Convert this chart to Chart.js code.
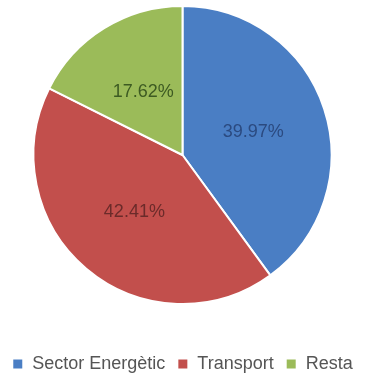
<!DOCTYPE html>
<html>
<head>
<meta charset="utf-8">
<script src="https://cdn.jsdelivr.net/npm/chart.js@4/dist/chart.umd.min.js"></script>
<style>
  html, body { margin: 0; padding: 0; background: #fff; overflow: hidden; }
  #wrap { width: 374px; height: 416px; position: absolute; left: 0; top: -33px; }
</style>
</head>
<body>
<div id="wrap"><canvas id="myChart"></canvas></div>
<script>
const labels = ["Sector Energètic", "Transport", "Resta"];
const shares = [39.97, 42.41, 17.62];
const sliceColors = ["#4a7ec4", "#c24f4c", "#9bbb59"];
const textColors = ["#2b4a80", "#6b2b2a", "#3d5a22"];

// percentage text inside each slice, at the arc's middle point
const sliceLabels = {
    id: "sliceLabels",
    afterDatasetsDraw(chart) {
        const ctx = chart.ctx;
        const meta = chart.getDatasetMeta(0);
        ctx.save();
        ctx.font = "18px 'Liberation Sans', Arial, sans-serif";
        ctx.textAlign = "center";
        ctx.textBaseline = "middle";
        meta.data.forEach(function (arc, i) {
            const pos = arc.tooltipPosition();
            ctx.fillStyle = textColors[i];
            ctx.fillText(shares[i].toFixed(2) + "%", pos.x, pos.y);
        });
        ctx.restore();
    }
};

new Chart(document.getElementById("myChart"), {
    type: "pie",
    data: {
        labels: labels,
        datasets: [
            {
                data: shares,
                backgroundColor: sliceColors,
                borderColor: "#ffffff",
                borderWidth: 2,
            },
        ],
    },
    options: {
        responsive: true,
        maintainAspectRatio: false,
        animation: false,
        radius: 149,
        layout: {
            padding: { right: 9 },
        },
        plugins: {
            tooltip: { enabled: false },
            legend: {
                position: "bottom",
                labels: {
                    boxWidth: 11,
                    boxHeight: 11,
                    padding: 12,
                    color: "#555555",
                    font: { family: "'Liberation Sans', Arial, sans-serif", size: 18 },
                },
            },
        },
    },
    plugins: [sliceLabels],
});
</script>
</body>
</html>
